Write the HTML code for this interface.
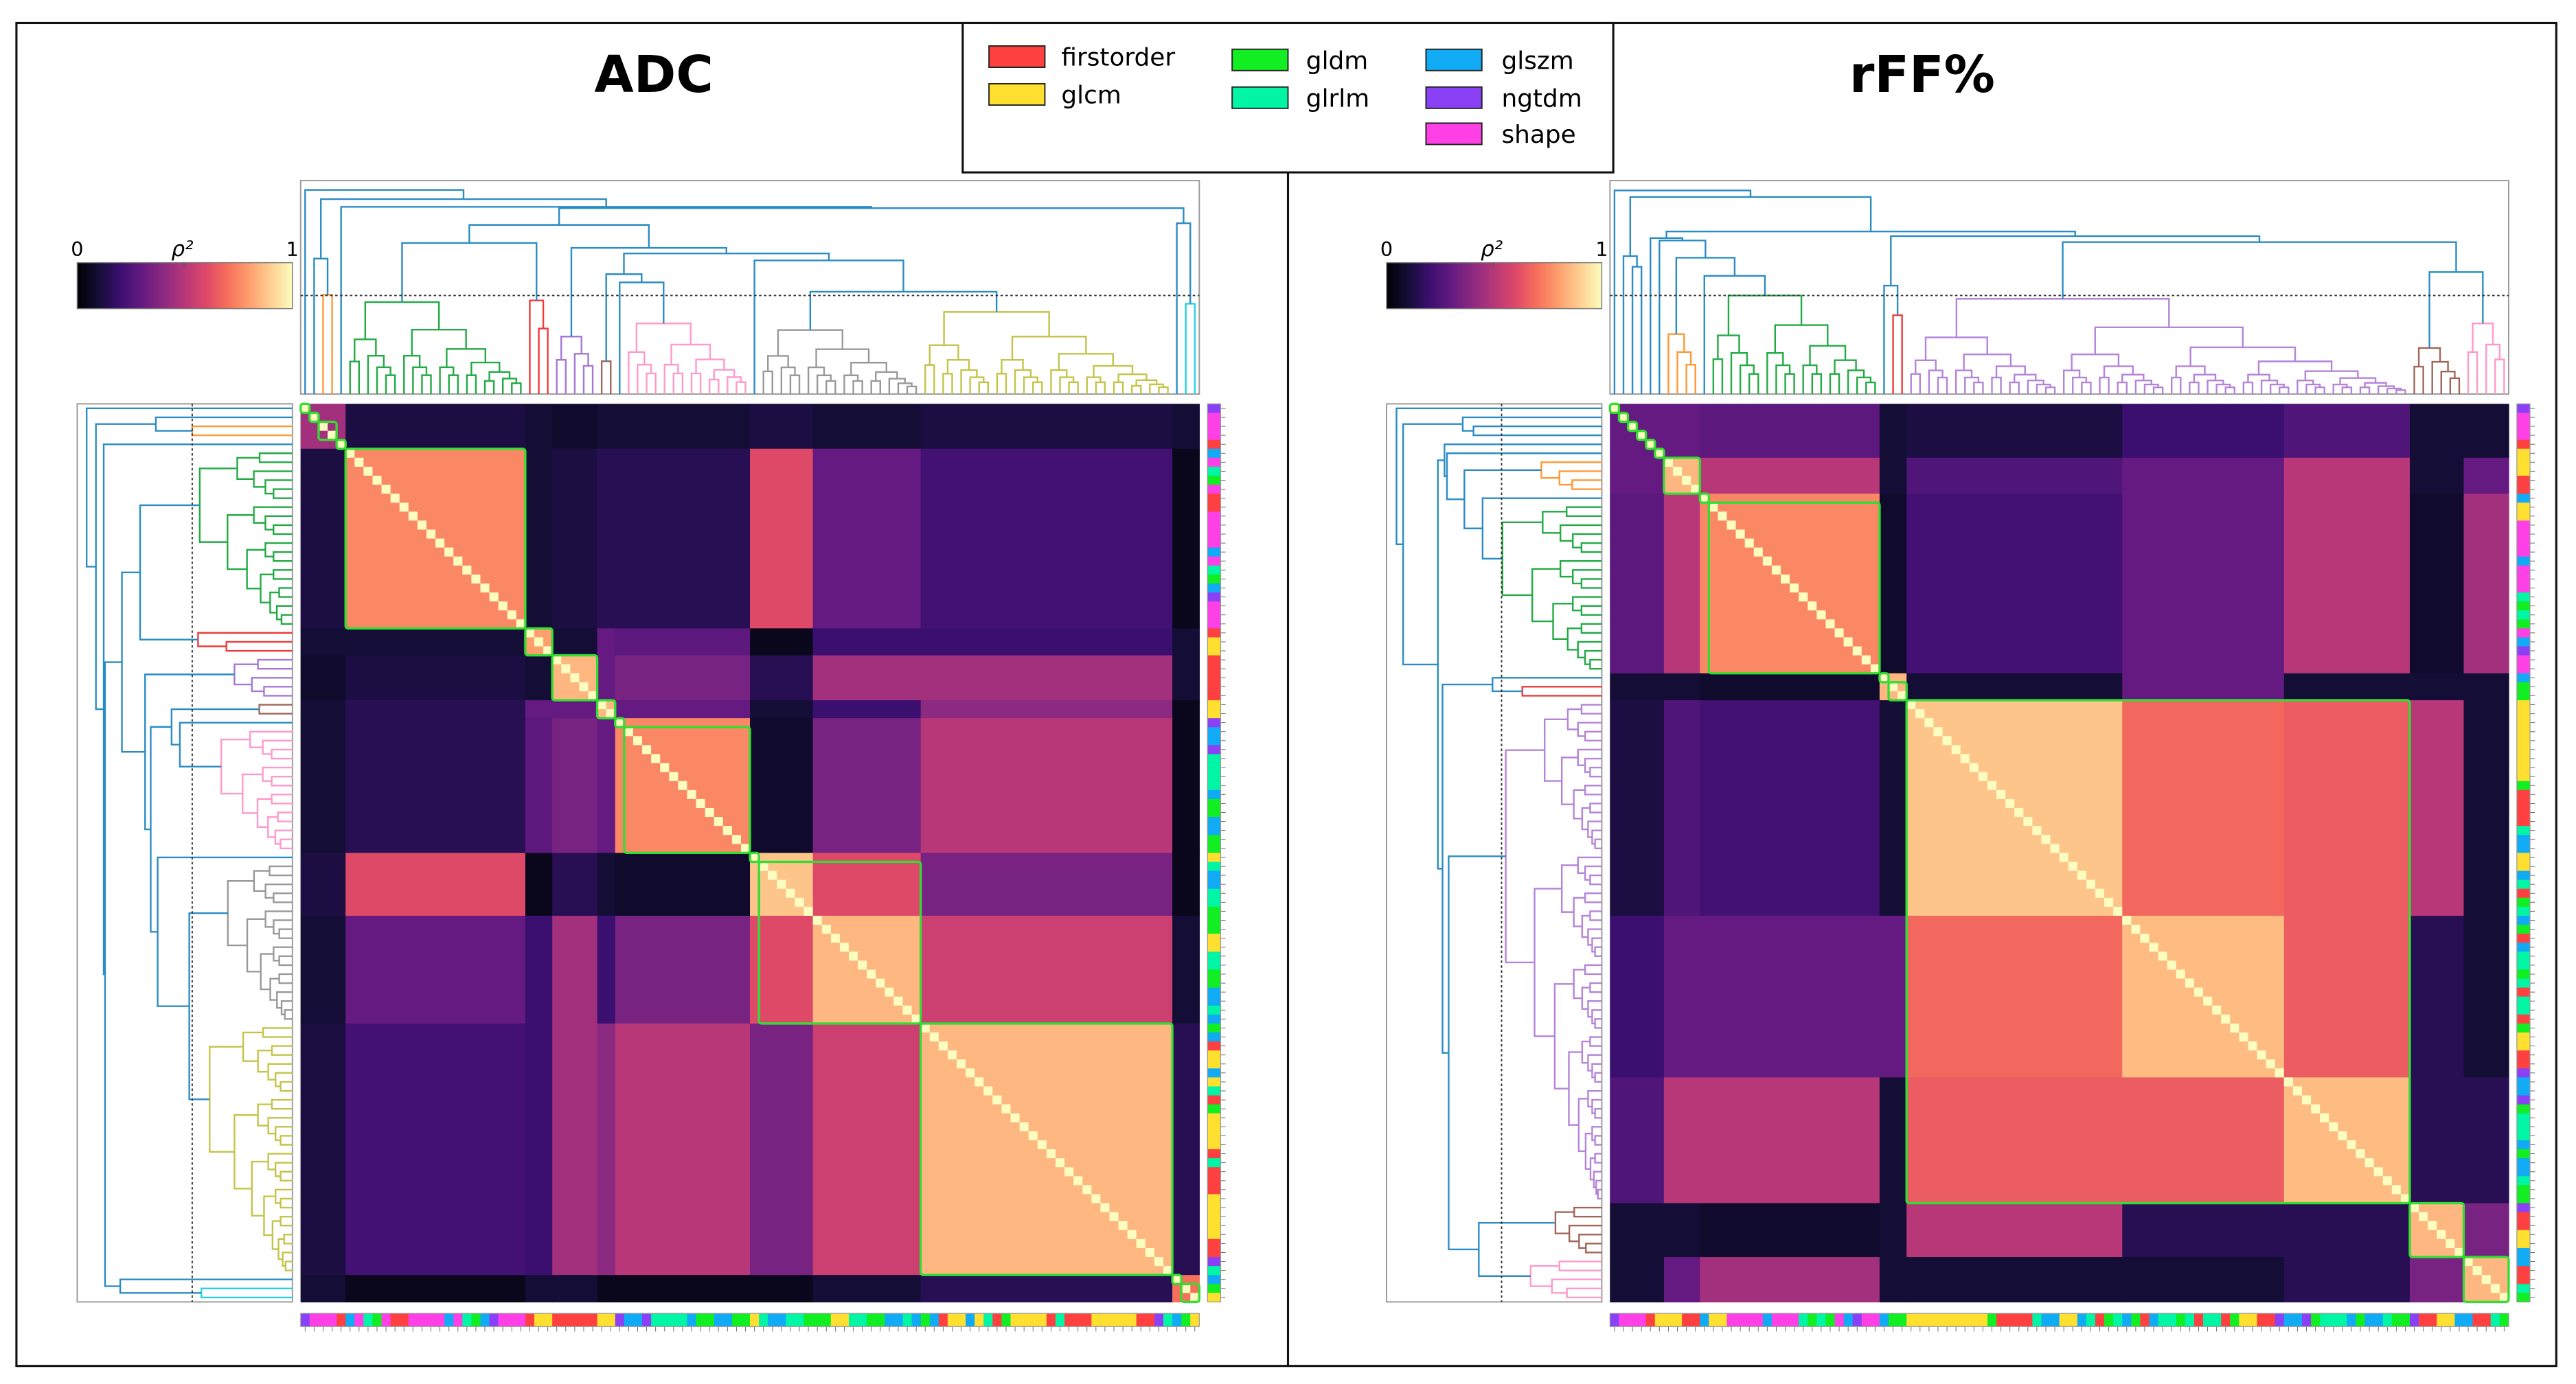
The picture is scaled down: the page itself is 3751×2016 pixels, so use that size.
<!DOCTYPE html>
<html><head><meta charset="utf-8"><style>
html,body{margin:0;padding:0;background:#fff;}
svg{display:block;font-family:"DejaVu Sans","Liberation Sans",sans-serif;}
</style></head>
<body>
<svg id="fig" xmlns="http://www.w3.org/2000/svg" width="3751" height="2016" viewBox="0 0 1568 843" preserveAspectRatio="none">
  <rect x="0" y="0" width="1568" height="843" fill="#fff"/>
  <rect x="10" y="14" width="1546" height="818" fill="none" stroke="#111" stroke-width="1.3"/>
  <line x1="784" y1="14" x2="784" y2="832" stroke="#111" stroke-width="1.3"/>
  <text x="398" y="56" text-anchor="middle" font-size="31" font-weight="bold" fill="#000">ADC</text>
  <text x="1170" y="56" text-anchor="middle" font-size="31" font-weight="bold" fill="#000">rFF%</text>
  <g>
    <rect x="586" y="14" width="396" height="91" fill="#fff" stroke="#111" stroke-width="1.3"/>
    <g><rect x="602" y="28" width="34" height="13" fill="#ff4040" stroke="#222" stroke-width="0.8"/><text x="646" y="40" font-size="15">firstorder</text></g>
    <g><rect x="602" y="51" width="34" height="13" fill="#ffe030" stroke="#222" stroke-width="0.8"/><text x="646" y="63" font-size="15">glcm</text></g>
    <g><rect x="750" y="30" width="34" height="13" fill="#11ee22" stroke="#222" stroke-width="0.8"/><text x="795" y="42" font-size="15">gldm</text></g>
    <g><rect x="750" y="53" width="34" height="13" fill="#00f5a5" stroke="#222" stroke-width="0.8"/><text x="795" y="65" font-size="15">glrlm</text></g>
    <g><rect x="868" y="30" width="34" height="13" fill="#10aaf5" stroke="#222" stroke-width="0.8"/><text x="914" y="42" font-size="15">glszm</text></g>
    <g><rect x="868" y="53" width="34" height="13" fill="#8a40f5" stroke="#222" stroke-width="0.8"/><text x="914" y="65" font-size="15">ngtdm</text></g>
    <g><rect x="868" y="75" width="34" height="13" fill="#ff40e6" stroke="#222" stroke-width="0.8"/><text x="914" y="87" font-size="15">shape</text></g>
  </g>
  <defs>
    <linearGradient id="magmaGrad" x1="0" x2="1" y1="0" y2="0">
      <stop offset="0" stop-color="#000004"/><stop offset="0.1" stop-color="#140e36"/><stop offset="0.2" stop-color="#3b0f70"/><stop offset="0.3" stop-color="#641a80"/><stop offset="0.4" stop-color="#8c2981"/><stop offset="0.5" stop-color="#b73779"/><stop offset="0.6" stop-color="#de4968"/><stop offset="0.7" stop-color="#f7705c"/><stop offset="0.8" stop-color="#fe9f6d"/><stop offset="0.9" stop-color="#fecf92"/><stop offset="1" stop-color="#fcfdbf"/>
    </linearGradient>
  </defs>
  <g id="panels"></g>
</svg>
<script>
// ===== ADC panel data =====
const adcSizes = [1,1,2,1,20,3,5,2,1,14,1,18,28,1,2];
const adcColors = ["#2b8cc4","#2b8cc4","#ff9933","#2b8cc4","#22aa44","#ee3b3b","#a678d6","#a0665a","#2b8cc4","#ff99cc","#2b8cc4","#999999","#c4c44a","#2b8cc4","#22d3e6"];
const adcTops = [240,240,179.5,240,184,183,205,220,240,197,240,201,190,240,185];
const adcMerges = [[1,2,157.5],[4,5,148],[8,9,172],[7,17,167],[11,12,177.7],[10,19,158.6],[18,20,154.4],[6,21,151],[16,22,137],[13,14,136],[23,24,126.8],[3,25,126],[15,26,121.3],[0,27,115.7]];
// heatmap blocks: S, G, R, P, Br, Pk, Gy1, Gy2, Y, C
const adcBlockSizes = [5,20,3,5,2,15,7,12,28,3];
const adcBlockMatrix = [
 [0.45,0.12,0.10,0.08,0.10,0.10,0.12,0.10,0.12,0.10],
 [0.12,0.75,0.10,0.12,0.15,0.15,0.60,0.30,0.22,0.05],
 [0.10,0.10,0.80,0.10,0.30,0.28,0.05,0.20,0.20,0.10],
 [0.08,0.12,0.10,0.85,0.30,0.35,0.15,0.45,0.45,0.10],
 [0.10,0.15,0.30,0.30,0.85,0.30,0.10,0.20,0.40,0.05],
 [0.10,0.15,0.28,0.35,0.30,0.75,0.08,0.35,0.50,0.05],
 [0.12,0.60,0.05,0.15,0.10,0.08,0.88,0.60,0.35,0.05],
 [0.10,0.30,0.20,0.45,0.20,0.35,0.60,0.85,0.55,0.10],
 [0.12,0.22,0.20,0.45,0.40,0.50,0.35,0.55,0.85,0.15],
 [0.10,0.05,0.10,0.10,0.05,0.05,0.05,0.10,0.15,0.70]];
const adcCats = "nsssfzsrdsffsssszsrdznsssfccfffffccnzznrrrrzddzzddcrzzrrdddccrrddzzrzdzfcczcrfdccccfrfffcccccffnrzdcfd";

// ===== rFF% panel data =====
const rffSizes = [1,1,1,1,1,1,4,1,19,1,2,56,6,5];
const rffColors = ["#2b8cc4","#2b8cc4","#2b8cc4","#2b8cc4","#2b8cc4","#2b8cc4","#ff9933","#2b8cc4","#22aa44","#2b8cc4","#ee3b3b","#b584d8","#a0665a","#ff99cc"];
const rffTops = [240,240,240,240,240,240,203.5,240,180,240,192,182,212,197];
const rffMerges = [[2,3,162.5],[1,14,156],[7,8,168],[6,16,157],[5,17,146.5],[4,18,145],[9,10,174],[12,13,165.7],[11,21,147.5],[20,22,143.8],[19,23,141],[15,24,120],[0,25,116]];
// heatmap blocks: S, O, G, R, Pu1, Pu2, Pu3, Br, Pi
const rffBlockSizes = [6,4,20,3,24,18,14,6,5];
const rffBlockMatrix = [
 [0.30,0.30,0.28,0.10,0.12,0.20,0.25,0.10,0.10],
 [0.30,0.85,0.50,0.10,0.25,0.30,0.50,0.10,0.30],
 [0.28,0.50,0.75,0.08,0.22,0.30,0.50,0.08,0.45],
 [0.10,0.10,0.08,0.85,0.10,0.30,0.10,0.10,0.10],
 [0.12,0.25,0.22,0.10,0.88,0.68,0.65,0.50,0.10],
 [0.20,0.30,0.30,0.30,0.68,0.86,0.65,0.15,0.10],
 [0.25,0.50,0.50,0.10,0.65,0.65,0.86,0.15,0.15],
 [0.10,0.10,0.08,0.10,0.50,0.15,0.15,0.85,0.35],
 [0.10,0.30,0.45,0.10,0.10,0.10,0.15,0.35,0.85]];
const rffCats = "nsssfcccffzccsssszsssrdrdsznsszddcccccccccdffffrzzcczrfdrzdfzrrdrfrrfdccffnzzndrrrzdzzrddnffcczzffrd";

const catColor = {f:"#ff4040",c:"#ffe030",d:"#11ee22",r:"#00f5a5",z:"#10aaf5",n:"#8a40f5",s:"#ff40e6"};
const magma = [[0,0,4],[20,14,54],[59,15,112],[100,26,128],[140,41,129],[183,55,121],[222,73,104],[247,112,92],[254,159,109],[254,207,146],[252,253,191]];
function cmap(v){
  v=Math.max(0,Math.min(1,v));const t=v*10;const i=Math.min(9,Math.floor(t));const f=t-i;
  const a=magma[i],b=magma[i+1];
  return "rgb("+a.map((c,k)=>Math.round(c+(b[k]-c)*f)).join(",")+")";
}
const NS="http://www.w3.org/2000/svg";
function mk(tag,attrs,parent){const e=document.createElementNS(NS,tag);for(const k in attrs)e.setAttribute(k,attrs[k]);parent.appendChild(e);return e;}

function drawPanel(p){
  const root=document.getElementById("panels");
  const g=mk("g",{},root);
  
  
  const X0=p.x0, Y0=246, S=547;
  const N=p.sizes.reduce((a,b)=>a+b,0);
  const step=S/N;
  const starts=[];let acc=0;p.sizes.forEach(s=>{starts.push(acc);acc+=s;});
  const bStarts=[];acc=0;p.blockSizes.forEach(s=>{bStarts.push(acc);acc+=s;});

  // colorbar
  const cb=mk("g",{},g);
  
  
  const cbx=X0-136;
  mk("rect",{x:cbx,y:160,width:131,height:28,fill:"url(#magmaGrad)",stroke:"#777","stroke-width":0.6},cb);
  mk("line",{x1:cbx+65,y1:160,x2:cbx+65,y2:163,stroke:"#555","stroke-width":0.6},cb);
  const t0=mk("text",{x:cbx,y:156,"font-size":12,"text-anchor":"middle"},cb);t0.textContent="0";
  const t1=mk("text",{x:cbx+131,y:156,"font-size":12,"text-anchor":"middle"},cb);t1.textContent="1";
  const tr=mk("text",{x:cbx+64,y:156,"font-size":13,"font-style":"italic","text-anchor":"middle"},cb);tr.textContent="ρ²";

  // heatmap
  const hm=mk("g",{},g);
  
  
  mk("rect",{x:X0,y:Y0,width:S,height:S,fill:"#000"},hm);
  for(let a=0;a<p.blockSizes.length;a++){
    for(let b=0;b<p.blockSizes.length;b++){
      const v=p.blockMatrix[a][b];
      const r=mk("rect",{x:X0+bStarts[b]*step,y:Y0+bStarts[a]*step,width:p.blockSizes[b]*step+0.3,height:p.blockSizes[a]*step+0.3,fill:cmap(v)},hm);
      
      
    }
  }
  for(let i=0;i<N;i++){
    const c=mk("rect",{x:X0+i*step,y:Y0+i*step,width:step,height:step,fill:cmap(1)},hm);
    
    
  }
  for(let a=0;a<p.sizes.length;a++){
    const bx=mk("rect",{x:X0+starts[a]*step,y:Y0+starts[a]*step,width:p.sizes[a]*step,height:p.sizes[a]*step,fill:"none",stroke:"#33dd33","stroke-width":1.4,rx:1.5},hm);
    
    
  }

  // category strips
  const cats=(p.cats+p.cats).slice(0,N);
  const sb=mk("g",{},g);
  
  
  const sr=mk("g",{},g);
  
  
  for(let i=0;i<N;i++){
    const col=catColor[cats[i]];
    mk("rect",{x:X0+i*step,y:800,width:step+0.3,height:8,fill:col},sb);
    mk("line",{x1:X0+(i+0.5)*step,y1:808,x2:X0+(i+0.5)*step,y2:811,stroke:"#666","stroke-width":0.4},sb);
    mk("rect",{x:X0+S+5,y:Y0+i*step,width:8,height:step+0.3,fill:col},sr);
    mk("line",{x1:X0+S+13,y1:Y0+(i+0.5)*step,x2:X0+S+16,y2:Y0+(i+0.5)*step,stroke:"#666","stroke-width":0.4},sr);
  }
  mk("rect",{x:X0,y:800,width:S,height:8,fill:"none",stroke:"#999","stroke-width":0.5},sb);
  mk("rect",{x:X0+S+5,y:Y0,width:8,height:S,fill:"none",stroke:"#999","stroke-width":0.5},sr);

  // dendrograms
  const top=mk("g",{},g);
  
  
  const left=mk("g",{},g);
  
  
  mk("rect",{x:X0,y:110,width:S,height:130,fill:"none",stroke:"#999","stroke-width":0.8},top);
  mk("rect",{x:X0-136,y:Y0,width:131,height:S,fill:"none",stroke:"#999","stroke-width":0.8},left);
  const LX0=X0-136;
  function toTop(pos,h){return [X0+pos*step,h];}
  function toLeft(pos,h){return [LX0+(h-110)*131/130,Y0+pos*step];}
  function U(a,b,h,col){
    [[top,toTop],[left,toLeft]].forEach(([grp,fn])=>{
      const p1=fn(a.pos,a.h),p2=fn(a.pos,h),p3=fn(b.pos,h),p4=fn(b.pos,b.h);
      mk("polyline",{points:[p1,p2,p3,p4].map(q=>q.join(",")).join(" "),fill:"none",stroke:col,"stroke-width":1},grp);
    });
  }
  function sub(s,e,h,col){
    if(e-s===1)return {pos:s+0.5,h:240};
    const n=e-s;const k=n>3?Math.max(1,Math.round(n*0.3)):1;
    const hc=h+(240-h)*0.3;
    const a=sub(s,s+k,hc+(240-hc)*0.15,col),b=sub(s+k,e,hc,col);
    U(a,b,h,col);
    return {pos:(a.pos+b.pos)/2,h:h};
  }
  const nodes=[];
  p.sizes.forEach((s,ci)=>{nodes.push(sub(starts[ci],starts[ci]+s,p.tops[ci],p.colors[ci]));});
  p.merges.forEach(m=>{
    const a=nodes[m[0]],b=nodes[m[1]];
    U(a,b,m[2],"#2b8cc4");
    nodes.push({pos:(a.pos+b.pos)/2,h:m[2]});
  });
  mk("line",{x1:X0,y1:180,x2:X0+S,y2:180,stroke:"#333","stroke-width":0.8,"stroke-dasharray":"1.5,1.5"},top);
  mk("line",{x1:LX0+70,y1:Y0,x2:LX0+70,y2:Y0+S,stroke:"#333","stroke-width":0.8,"stroke-dasharray":"1.5,1.5"},left);
}
drawPanel({name:"adc",x0:183,sizes:adcSizes,colors:adcColors,tops:adcTops,merges:adcMerges,blockSizes:adcBlockSizes,blockMatrix:adcBlockMatrix,cats:adcCats});
drawPanel({name:"rff",x0:980,sizes:rffSizes,colors:rffColors,tops:rffTops,merges:rffMerges,blockSizes:rffBlockSizes,blockMatrix:rffBlockMatrix,cats:rffCats});
</script>
</body></html>
